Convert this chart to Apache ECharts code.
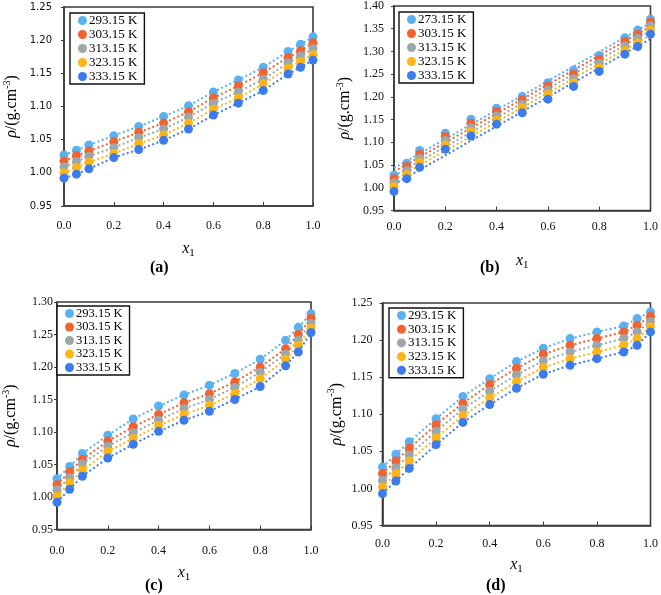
<!DOCTYPE html>
<html><head><meta charset="utf-8">
<script src="https://cdn.jsdelivr.net/npm/echarts@6/dist/echarts.min.js"></script>
<style>html,body{margin:0;padding:0;background:#fff}#c{width:661px;height:595px}</style>
</head><body><div id="c"></div>
<script>
const xVals = [0, 0.05, 0.1, 0.2, 0.3, 0.4, 0.5, 0.6, 0.7, 0.8, 0.9, 0.95, 1.0];
const xTicks = [0.0, 0.2, 0.4, 0.6, 0.8, 1.0];
const tempsA = ['293.15 K', '303.15 K', '313.15 K', '323.15 K', '333.15 K'];
const tempsB = ['273.15 K', '303.15 K', '313.15 K', '323.15 K', '333.15 K'];

// panel (a)
const a1 = [1.027, 1.034, 1.042, 1.056, 1.070, 1.085, 1.101, 1.122, 1.140, 1.159, 1.183, 1.194, 1.205];
const a2 = [1.018, 1.026, 1.033, 1.047, 1.061, 1.075, 1.092, 1.113, 1.131, 1.151, 1.174, 1.184, 1.196];
const a3 = [1.009, 1.017, 1.025, 1.038, 1.053, 1.066, 1.084, 1.105, 1.122, 1.141, 1.166, 1.176, 1.187];
const a4 = [1.000, 1.008, 1.016, 1.029, 1.044, 1.057, 1.075, 1.096, 1.113, 1.134, 1.158, 1.168, 1.178];
const a5 = [0.992, 0.998, 1.006, 1.023, 1.035, 1.049, 1.066, 1.087, 1.105, 1.124, 1.149, 1.159, 1.170];
// panel (b)
const b1 = [1.028, 1.054, 1.082, 1.120, 1.151, 1.175, 1.201, 1.231, 1.259, 1.291, 1.330, 1.347, 1.371];
const b2 = [1.020, 1.047, 1.074, 1.113, 1.142, 1.168, 1.193, 1.224, 1.250, 1.283, 1.322, 1.338, 1.364];
const b3 = [1.011, 1.038, 1.065, 1.104, 1.132, 1.158, 1.184, 1.215, 1.240, 1.274, 1.312, 1.329, 1.356];
const b4 = [1.003, 1.029, 1.056, 1.094, 1.124, 1.149, 1.176, 1.206, 1.231, 1.264, 1.302, 1.319, 1.347];
const b5 = [0.992, 1.020, 1.045, 1.085, 1.114, 1.140, 1.165, 1.195, 1.223, 1.256, 1.294, 1.311, 1.338];
// panel (c)
const c1 = [1.028, 1.047, 1.067, 1.095, 1.120, 1.140, 1.157, 1.172, 1.190, 1.212, 1.241, 1.261, 1.282];
const c2 = [1.019, 1.039, 1.058, 1.086, 1.108, 1.127, 1.145, 1.159, 1.177, 1.200, 1.228, 1.250, 1.275];
const c3 = [1.011, 1.030, 1.051, 1.078, 1.099, 1.118, 1.136, 1.150, 1.169, 1.192, 1.220, 1.241, 1.267];
const c4 = [1.001, 1.022, 1.041, 1.070, 1.090, 1.110, 1.127, 1.141, 1.159, 1.182, 1.212, 1.233, 1.260];
const c5 = [0.992, 1.012, 1.032, 1.060, 1.081, 1.101, 1.118, 1.132, 1.150, 1.170, 1.202, 1.223, 1.253];
// panel (d)
const d1 = [1.029, 1.046, 1.063, 1.094, 1.124, 1.148, 1.171, 1.189, 1.202, 1.211, 1.219, 1.229, 1.238];
const d2 = [1.020, 1.037, 1.054, 1.086, 1.115, 1.140, 1.162, 1.181, 1.193, 1.202, 1.211, 1.220, 1.232];
const d3 = [1.011, 1.028, 1.045, 1.077, 1.107, 1.131, 1.153, 1.172, 1.184, 1.193, 1.202, 1.211, 1.225];
const d4 = [1.002, 1.020, 1.037, 1.068, 1.098, 1.122, 1.144, 1.163, 1.175, 1.184, 1.193, 1.202, 1.218];
const d5 = [0.993, 1.010, 1.027, 1.059, 1.089, 1.113, 1.135, 1.154, 1.166, 1.175, 1.184, 1.193, 1.211];

const colors = ['#5AB1F2', '#F2622E', '#9BA7AA', '#FDB515', '#3C7BEC'];
const serif = 'Liberation Serif';

const panels = [
  {data: [a1, a2, a3, a4, a5], names: tempsA, fit: false, ymin: 0.95, ymax: 1.25,
   grid: {left: 64, top: 7, width: 249, height: 199},
   yLab: {fontFamily: 'DejaVu Sans', fontSize: 10, margin: 12}, xMargin: 14, yGap: 42, xGap: 33,
   legend: {left: 70, top: 13, lh: 13, gap: 1, fs: 13}},
  {data: [b1, b2, b3, b4, b5], names: tempsB, fit: true, ymin: 0.95, ymax: 1.40,
   grid: {left: 394, top: 6, width: 258, height: 204.5},
   yLab: {fontFamily: serif, fontSize: 12, margin: 10}, xMargin: 10, yGap: 39, xGap: 40,
   legend: {left: 399, top: 12, lh: 13, gap: 1, fs: 13}},
  {data: [c1, c2, c3, c4, c5], names: tempsA, fit: false, ymin: 0.95, ymax: 1.30,
   grid: {left: 51, top: 302, width: 260, height: 227.5},
   yLab: {fontFamily: serif, fontSize: 12, margin: 4}, xMargin: 15, yGap: 36, xGap: 33,
   legend: {left: 57, top: 306, lh: 12, gap: 0.5, fs: 12.5}},
  {data: [d1, d2, d3, d4, d5], names: tempsA, fit: false, ymin: 0.95, ymax: 1.25,
   grid: {left: 382.5, top: 303, width: 270, height: 222.5},
   yLab: {fontFamily: serif, fontSize: 12, margin: 10}, xMargin: 12, yGap: 36, xGap: 29,
   legend: {left: 389, top: 308, lh: 13, gap: 0.7, fs: 13}}
];

const grids = [], xAxes = [], yAxes = [], series = [], legends = [];
const axisCol = '#3a3a3a';
panels.forEach((p, i) => {
  grids.push(Object.assign({show: true, borderColor: axisCol, borderWidth: 1.6, backgroundColor: 'transparent'}, p.grid));
  xAxes.push({
    type: 'value', gridIndex: i, min: 0, max: 1, interval: 0.2,
    name: '{i|x}{s|1}', nameLocation: 'middle', nameGap: p.xGap,
    nameTextStyle: {rich: {
      i: {fontFamily: serif, fontStyle: 'italic', fontSize: 16, lineHeight: 20, color: '#000', verticalAlign: 'middle'},
      s: {fontFamily: serif, fontSize: 11, lineHeight: 12, color: '#000', verticalAlign: 'bottom'}}},
    axisLine: {show: true, lineStyle: {color: axisCol, width: 1.6}},
    axisTick: {show: true, inside: true, length: 4, lineStyle: {color: axisCol}},
    axisLabel: {fontFamily: serif, fontSize: 12, color: '#111', margin: p.xMargin, formatter: v => v.toFixed(1)},
    splitLine: {show: false}
  });
  yAxes.push({
    type: 'value', gridIndex: i, min: p.ymin, max: p.ymax, interval: 0.05,
    name: '{r|ρ}{n|/(g.cm}{u|-3}{n|)}', nameLocation: 'middle', nameGap: p.yGap, nameRotate: 90,
    nameTextStyle: {rich: {
      r: {fontFamily: serif, fontStyle: 'italic', fontSize: 16, lineHeight: 20, color: '#000', verticalAlign: 'middle'},
      n: {fontFamily: serif, fontSize: 16, lineHeight: 20, color: '#000', verticalAlign: 'middle'},
      u: {fontFamily: serif, fontSize: 10, lineHeight: 10, color: '#000', verticalAlign: 'top'}}},
    axisLine: {show: true, lineStyle: {color: axisCol, width: 1.6}},
    axisTick: {show: true, inside: false, length: 3, lineStyle: {color: axisCol}},
    axisLabel: Object.assign({color: '#111', formatter: v => v.toFixed(2)}, p.yLab),
    splitLine: {show: false}
  });
  p.data.forEach((arr, k) => {
    const pts = xVals.map((x, j) => [x, arr[j]]);
    if (p.fit) {
      // linear least-squares trendline from the data
      const n = pts.length;
      let sx = 0, sy = 0, sxx = 0, sxy = 0;
      pts.forEach(([x, y]) => { sx += x; sy += y; sxx += x * x; sxy += x * y; });
      const slope = (n * sxy - sx * sy) / (n * sxx - sx * sx);
      const icpt = (sy - slope * sx) / n;
      series.push({type: 'line', name: 'fit' + i + k, xAxisIndex: i, yAxisIndex: i, showSymbol: false, silent: true,
        data: [[0, icpt], [1, icpt + slope]], z: 1,
        lineStyle: {color: colors[k], width: 2, type: [2, 2.5]}});
      series.push({type: 'scatter', name: p.names[k], xAxisIndex: i, yAxisIndex: i, data: pts,
        symbolSize: 9, itemStyle: {color: colors[k], opacity: 1}, z: 2 + k});
    } else {
      series.push({type: 'line', name: p.names[k], xAxisIndex: i, yAxisIndex: i, data: pts,
        symbol: 'circle', symbolSize: 9, showSymbol: true, z: 2 + k,
        itemStyle: {color: colors[k], opacity: 1},
        lineStyle: {color: colors[k], width: 2, type: [2, 2.5]}});
    }
  });
  legends.push({
    data: p.names, left: p.legend.left, top: p.legend.top, orient: 'vertical',
    icon: 'circle', itemWidth: 9, itemHeight: 9, itemGap: p.legend.gap,
    borderColor: '#111', borderWidth: 1.4, padding: [1, 7, 1, 8], selectedMode: false,
    backgroundColor: '#fff',
    textStyle: {fontFamily: serif, fontSize: p.legend.fs, color: '#000', lineHeight: p.legend.lh, padding: [0, 0, 0, -3]}
  });
});

const chart = echarts.init(document.getElementById('c'), null, {renderer: 'canvas'});
chart.setOption({
  animation: false,
  backgroundColor: '#fff',
  grid: grids, xAxis: xAxes, yAxis: yAxes, series: series, legend: legends,
  graphic: [
    {type: 'text', left: 150, top: 260, style: {text: '(a)', font: 'bold 16px "Liberation Serif"', fill: '#000'}},
    {type: 'text', left: 480, top: 260, style: {text: '(b)', font: 'bold 16px "Liberation Serif"', fill: '#000'}},
    {type: 'text', left: 145, top: 578, style: {text: '(c)', font: 'bold 16px "Liberation Serif"', fill: '#000'}},
    {type: 'text', left: 486, top: 578, style: {text: '(d)', font: 'bold 16px "Liberation Serif"', fill: '#000'}}
  ]
});
</script></body></html>
